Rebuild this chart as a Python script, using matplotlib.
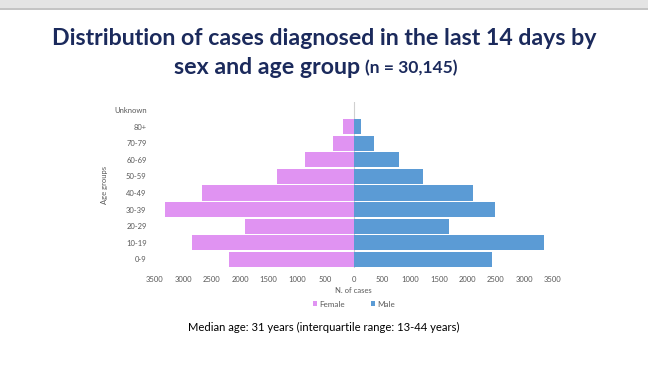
import numpy as np
import matplotlib.pyplot as plt
from matplotlib.patches import Rectangle

ages = ['0-9', '10-19', '20-29', '30-39', '40-49', '50-59', '60-69', '70-79', '80+', 'Unknown']
female = [2190, 2840, 1920, 3330, 2670, 1360, 850, 370, 195, 0]
male = [2440, 3350, 1680, 2490, 2090, 1210, 800, 363, 135, 0]
ticks = [-3500, -3000, -2500, -2000, -1500, -1000, -500, 0, 500, 1000, 1500, 2000, 2500, 3000, 3500]

plt.rcParams['font.family'] = ['Lato', 'DejaVu Sans']

fig = plt.figure(figsize=(6.48, 3.77), dpi=100)

# grey band at the very top
fig.patches.append(Rectangle((0, 1 - 8/377), 1, 8/377, transform=fig.transFigure,
                             facecolor='#e4e4e4', edgecolor='none'))
fig.patches.append(Rectangle((0, 1 - 9.5/377), 1, 1.5/377, transform=fig.transFigure,
                             facecolor='#c4c4c4', edgecolor='none'))

ax = fig.add_axes([0.239, 0.290, 0.614, 0.440])
y = np.arange(len(ages))
ax.barh(y, [-v for v in female], height=0.92, color='#e093f2', label='Female')
ax.barh(y, male, height=0.92, color='#5b9bd5', label='Male')
ax.axvline(0, color='#d0d0d0', lw=0.8, zorder=0)

ax.set_xlim(-3500, 3500)
ax.set_ylim(-0.5, len(ages) - 0.5)
ax.set_yticks(y)
ax.set_yticklabels(ages)
ax.set_xticks(ticks)
ax.set_xticklabels([str(abs(t)) for t in ticks])
ax.tick_params(length=0, labelsize=5.5, colors='#595959', pad=6)
for s in ax.spines.values():
    s.set_visible(False)

ax.set_xlabel('N. of cases', fontsize=5.5, color='#595959', labelpad=3)
ax.set_ylabel('Age groups', fontsize=5.5, color='#595959', labelpad=4)

ax.legend(loc='upper center', bbox_to_anchor=(0.5, -0.155), ncol=2, frameon=False,
          fontsize=5.8, labelcolor='#595959', handlelength=0.5, handleheight=0.5,
          handletextpad=0.3, columnspacing=3.2)

fig.text(0.5, 0.897, 'Distribution of cases diagnosed in the last 14 days by',
         ha='center', va='center', fontsize=16.7, fontweight='bold', color='#1b2a5c')
fig.text(0.5555, 0.822, 'sex and age group', ha='right', va='center',
         fontsize=16.7, fontweight='bold', color='#1b2a5c')
fig.text(0.5635, 0.818, '(n = 30,145)', ha='left', va='center',
         fontsize=12.5, fontweight='bold', color='#1b2a5c')

fig.text(0.5, 0.132, 'Median age: 31 years (interquartile range: 13-44 years)',
         ha='center', va='center', fontsize=8.1, color='black')

fig.savefig('out.png', dpi=100)
